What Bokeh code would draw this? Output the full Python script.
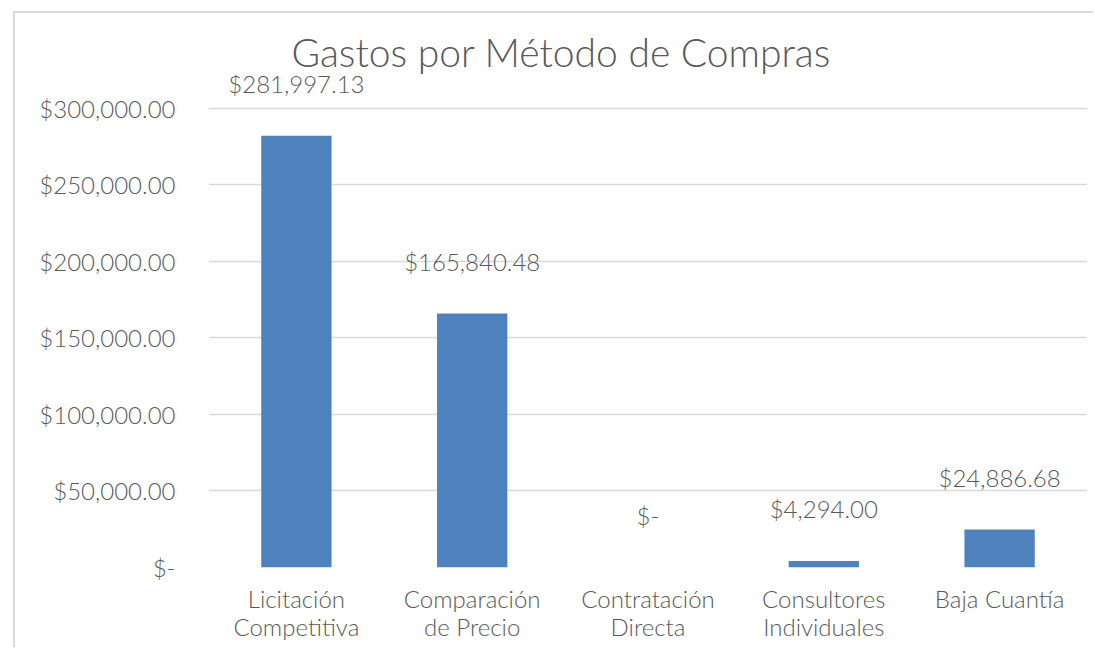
from bokeh.plotting import figure
from bokeh.models import (FixedTicker, NumeralTickFormatter, ColumnDataSource, Range1d,
                          Title, LabelSet, LinearAxis)
from bokeh.core.properties import value
from bokeh.embed import file_html
from bokeh.resources import INLINE

categories = ["Licitación Competitiva", "Comparación de Precio", "Contratación Directa",
              "Consultores Individuales", "Baja Cuantía"]
tick_line1 = ["Licitación", "Comparación", "Contratación", "Consultores", "Baja Cuantía"]
tick_line2 = ["Competitiva", "de Precio", "Directa", "Individuales", ""]
amounts = [281997.13, 165840.48, 0.0, 4294.00, 24886.68]
y_ticks = [0, 50000, 100000, 150000, 200000, 250000, 300000]

FONT = "Lato Light"
GRAY = "#595959"
FS = "24px"

def fmt(v):
    return "$-" if v == 0 else "${:,.2f}".format(v)

labels = [fmt(v) for v in amounts]
centres = [i + 0.5 for i in range(len(categories))]   # category slot centres
src = ColumnDataSource(dict(x=centres, cat=categories, amt=amounts, lab=labels))

p = figure(x_range=Range1d(0, len(categories)), width=1080, height=636,
           output_backend="svg", toolbar_location=None, min_border_left=193,
           min_border_right=8, min_border_bottom=82, min_border_top=61,
           x_axis_location=None)
p.styles = {"border-left": "2px solid #d9d9d9", "border-top": "2px solid #d9d9d9",
            "margin-left": "13px", "margin-top": "11px"}
# top of range leaves room above the $300,000 gridline for the value labels
p.y_range = Range1d(0, 322000)
p.outline_line_color = None

p.vbar(x="x", top="amt", width=0.4, source=src, color="#4F81BD", line_color=None)
ls = LabelSet(x="x", y="amt", text="lab", source=src, text_align="center",
              text_baseline="middle", y_offset=52, text_font=value(FONT),
              text_font_size=value(FS), text_color=GRAY)
p.add_layout(ls)

t = Title(text="Gastos por Método de Compras", align="left", offset=83,
          text_font=FONT, text_font_size="39px", text_font_style="normal",
          text_color=GRAY, standoff=0)
p.add_layout(t, "above")

p.yaxis.ticker = FixedTicker(ticks=y_ticks)
p.yaxis.formatter = NumeralTickFormatter(format="$0,0.00")
p.yaxis.major_label_overrides = {0: "$-"}
p.yaxis.axis_line_color = None
p.yaxis.major_tick_line_color = None
p.yaxis.major_tick_out = 0
p.yaxis.minor_tick_line_color = None
p.yaxis.minor_tick_out = 0
p.yaxis.major_label_standoff = 33
p.yaxis.major_label_text_font = FONT
p.yaxis.major_label_text_font_size = FS
p.yaxis.major_label_text_color = GRAY

def label_axis(lines, standoff):
    ax = LinearAxis(ticker=FixedTicker(ticks=centres),
                    major_label_overrides=dict(zip(centres, lines)),
                    axis_line_color=None, major_tick_line_color=None, major_tick_out=0,
                    minor_tick_line_color=None, minor_tick_out=0,
                    major_label_standoff=standoff,
                    major_label_text_font=FONT, major_label_text_font_size=FS,
                    major_label_text_color=GRAY)
    p.add_layout(ax, "below")

label_axis(tick_line1, 16)
label_axis(tick_line2, -4)

p.xgrid.grid_line_color = None
p.ygrid.grid_line_color = "#d9d9d9"
p.ygrid.grid_line_width = 1.5

open("out.html", "w").write(file_html(p, INLINE))
